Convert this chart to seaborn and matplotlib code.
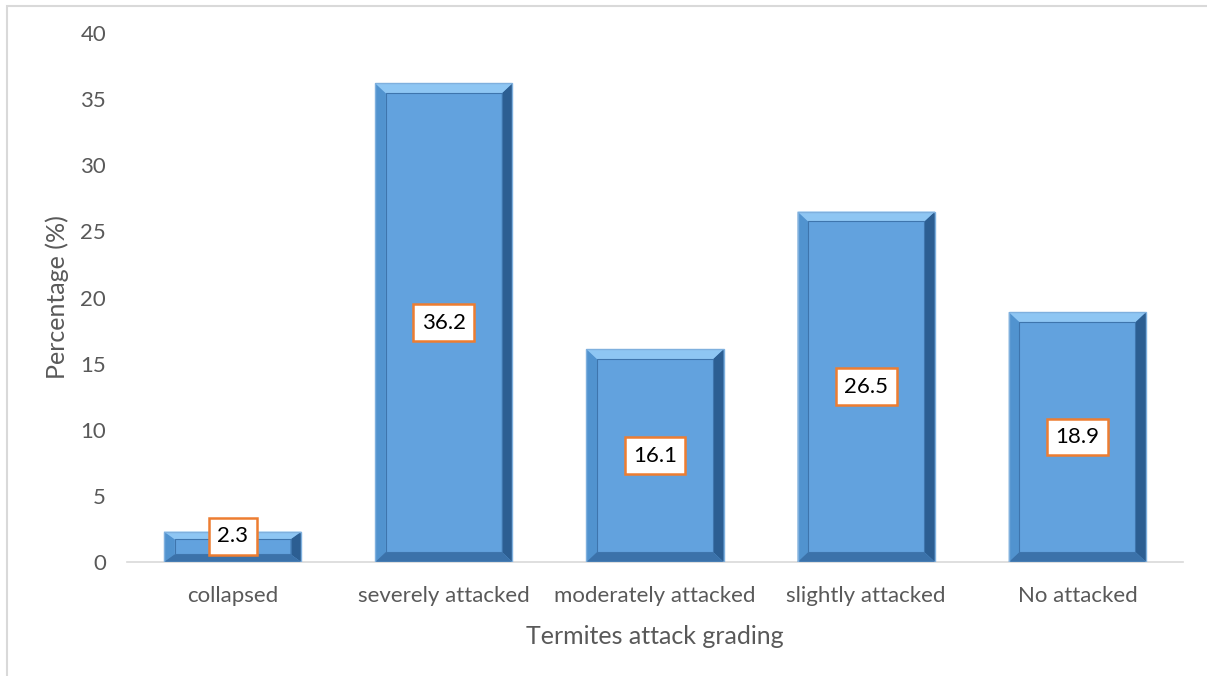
import matplotlib
matplotlib.use("Agg")
import matplotlib.pyplot as plt
from matplotlib.patches import Polygon, Rectangle
import seaborn as sns
import pandas as pd

categories = ["collapsed", "severely attacked", "moderately attacked", "slightly attacked", "No attacked"]
values = [2.3, 36.2, 16.1, 26.5, 18.9]
yticks = [0, 5, 10, 15, 20, 25, 30, 35, 40]

sns.set_theme(style="white")
plt.rcParams["font.family"] = ["Lato", "DejaVu Sans"]

W, H = 1207, 676
fig = plt.figure(figsize=(W / 100, H / 100), dpi=100)
ax = fig.add_axes([127 / W, 1 - 562 / H, (1183 - 127) / W, (562 - 33) / H])

df = pd.DataFrame({"cat": categories, "val": values})
sns.barplot(data=df, x="cat", y="val", color="#62A2DE", width=0.65, saturation=1, ax=ax, edgecolor="none")

ax.set_xlim(-0.5, len(categories) - 0.5)
ax.set_ylim(0, 40)
ax.set_yticks(yticks)
ax.set_yticklabels([str(t) for t in yticks], fontsize=16, color="#595959")
ax.tick_params(axis="x", labelsize=16, colors="#595959", length=0, pad=17)
ax.tick_params(axis="y", length=0, pad=15)
for s in ["top", "right", "left"]:
    ax.spines[s].set_visible(False)
ax.spines["bottom"].set_color("#D9D9D9")
ax.spines["bottom"].set_linewidth(1.2)

ax.set_xlabel("Termites attack grading", fontsize=18, color="#595959", labelpad=14)
ax.set_ylabel("Percentage (%)", fontsize=18, color="#595959", labelpad=8)

# bevel
w = 0.65
dx = 0.05
for i, v in enumerate(values):
    x0, x1 = i - w / 2, i + w / 2
    dy = min(0.75, v * 0.25)
    top = [(x0, v), (x1, v), (x1 - dx, v - dy), (x0 + dx, v - dy)]
    left = [(x0, 0), (x0, v), (x0 + dx, v - dy), (x0 + dx, dy)]
    right = [(x1, 0), (x1, v), (x1 - dx, v - dy), (x1 - dx, dy)]
    bottom = [(x0, 0), (x1, 0), (x1 - dx, dy), (x0 + dx, dy)]
    ax.add_patch(Polygon(left, closed=True, fc="#5193CF", ec="none", zorder=3))
    ax.add_patch(Polygon(right, closed=True, fc="#2C5E92", ec="none", zorder=3))
    ax.add_patch(Polygon(bottom, closed=True, fc="#3B72AA", ec="none", zorder=3))
    ax.add_patch(Polygon(top, closed=True, fc="#8EC6F3", ec="none", zorder=3))
    ax.add_patch(Rectangle((x0, 0), w, v, fill=False, ec="#7FB0DE", lw=1.0, zorder=4))
    ax.add_patch(Rectangle((x0 + dx, dy), w - 2 * dx, v - 2 * dy, fill=False, ec="#3E75AD", lw=0.8, zorder=4))
    ax.text(i, max(v / 2, 1.95), f"{v}", ha="center", va="center", fontsize=16, color="black", zorder=5,
            bbox=dict(boxstyle="square,pad=0.38", fc="white", ec="#ED7D31", lw=1.8))

# outer frame
fig.add_artist(Rectangle((6.5 / W, -0.01), 1.0, 1 - 5.5 / H + 0.01, transform=fig.transFigure,
                         fill=False, ec="#D9D9D9", lw=1.5))

fig.savefig("out.png", dpi=100)
